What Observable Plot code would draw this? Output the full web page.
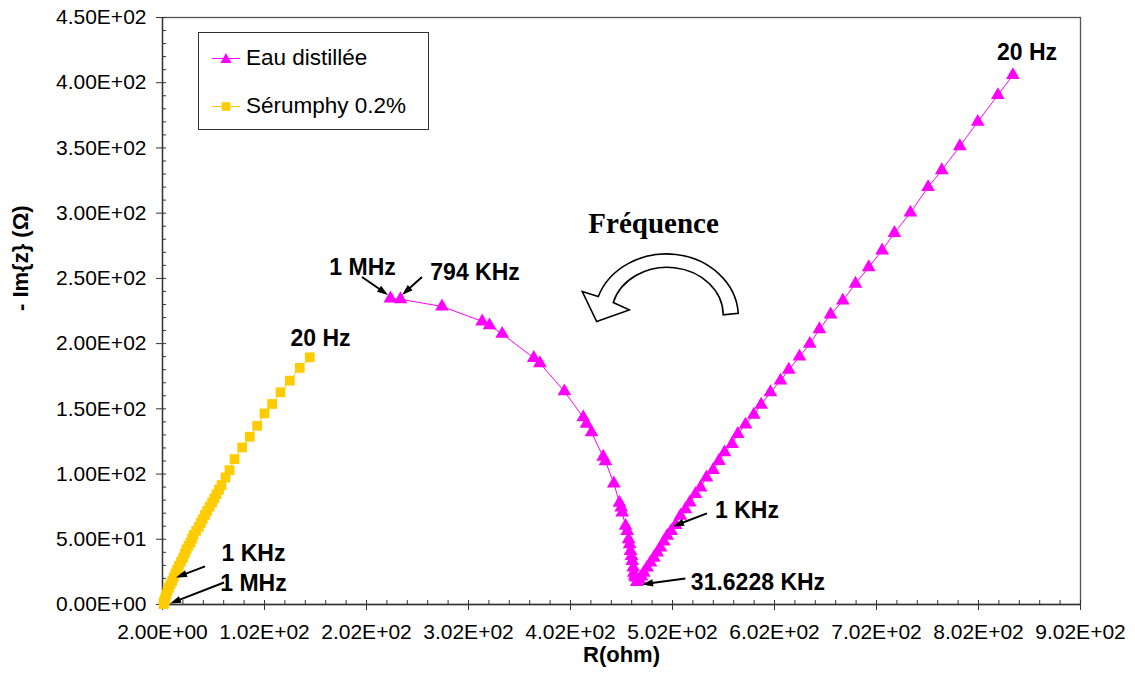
<!DOCTYPE html>
<html>
<head>
<meta charset="utf-8">
<script src="https://cdn.jsdelivr.net/npm/d3@7"></script>
<script src="https://cdn.jsdelivr.net/npm/@observablehq/plot@0.6"></script>
<style>
  html, body { margin: 0; padding: 0; background: #fff; }
  #wrap { position: relative; width: 1135px; height: 675px; font-family: "Liberation Sans", Arial, sans-serif; }
  #legend { position: absolute; left: 198px; top: 32px; width: 229px; height: 96px; border: 1.3px solid #333; background: #fff; box-sizing: content-box; }
  .entry { position: absolute; left: 0; height: 30px; display: flex; align-items: center; font-size: 22.5px; color: #000; }
  .entry svg { margin-left: 13px; margin-right: 6px; }
</style>
</head>
<body>
<div id="wrap">
  <div id="chart"></div>
  <div id="legend"></div>
</div>
<script>
// ---- Data ----
const eauR = [225.5, 235.3, 276, 315.4, 322.6, 335, 366, 372, 396, 414.5, 417.7, 422.6, 434, 436.3, 444.5, 450, 451.7, 452.7, 456, 457.6, 459, 460, 460.8, 461.8, 462.5, 463.5, 464, 465, 465.7, 467,
  469.5, 471.5, 473.9, 477.1, 480.4, 483.7, 487, 490.2, 493.5, 496.8, 500.7, 505, 509.8, 514.7, 519, 524.5, 529.5, 535.3, 541.8, 547.5, 553, 560.4, 566, 573.6, 581.7, 588.9, 598, 607.9, 616, 626.5, 636.6, 646, 657, 669, 681.4, 694.4, 707.5, 719.6, 735.3, 752.6, 766, 783.7, 801.3, 821, 835.7];
const eauIm = [234.6, 234, 228.5, 217, 214, 207.5, 189, 185, 163.4, 143.5, 138.6, 132, 113.3, 109.7, 92.8, 78, 74.3, 70.5, 60.3, 56.4, 50, 46.2, 41, 37.2, 33.4, 28.3, 24.4, 22, 20.6, 17.2,
  19, 21.5, 24.4, 28.3, 32.1, 35.9, 39.8, 43.6, 48.2, 52.6, 56.4, 61, 68, 73, 78.2, 84.6, 89.7, 97.4, 103, 110, 116.6, 123, 130.7, 137.9, 145.5, 153.2, 162.7, 171.6, 180, 190, 199.8, 211, 222.3, 233, 245.9, 258.6, 271.4, 284.8, 300.4, 320, 332.9, 351.3, 370, 390.5, 405.8];

const serR = [3.0, 3.3, 3.6, 4.0, 4.5, 5.0, 5.9, 7.0, 8.2, 9.8, 11.5, 13.0, 14.7, 16.3, 18, 20.2, 22.3, 24, 25.5, 27.5, 29.5, 31, 32.5, 35, 37.6, 39.5, 41.4, 43.6, 45.8, 48.2, 50.6, 52.8, 55, 57.4, 59.8, 63.8, 67.7, 72.6, 80.1, 87.6, 94.8, 102, 109.5, 117.7, 126.8, 136.6, 146.4];
const serIm = [0.3, 1.0, 1.8, 2.8, 4.0, 5.5, 7.8, 10.3, 12.9, 15.5, 18, 20.8, 23.7, 26.7, 29.6, 32.8, 35.9, 39.2, 42.4, 45, 47.5, 50.5, 53.4, 56.5, 59.5, 62.5, 65.4, 68.6, 71.8, 75, 78.2, 81.4, 84.6, 88, 91.5, 97.4, 103, 111.5, 120.4, 128.6, 137, 146.5, 153.7, 162.7, 171.6, 181.4, 189.5];

const seriesNames = ["Eau distillée", "Sérumphy 0.2%"];
const seriesColors = ["#FF00FF", "#FFCC00"];

const xTicks = [2, 102, 202, 302, 402, 502, 602, 702, 802, 902];
const yTicks = [0, 50, 100, 150, 200, 250, 300, 350, 400, 450];

const labelText = ["20 Hz", "1 MHz", "794 KHz", "20 Hz", "1 KHz", "1 MHz", "1 KHz", "31.6228 KHz"];
const labelX = [849.6, 198.1, 308.4, 156.9, 91.2, 91.2, 575, 585.8];
const labelY = [422.7, 258.4, 254.6, 203.9, 38.8, 15.7, 71.8, 16.5];

const arrowX1 = [198.1, 256.9, 44.2, 62.8, 536.3, 515.1];
const arrowY1 = [250.7, 250.7, 28.8, 16.5, 69.5, 19.6];
const arrowX2 = [223.6, 237.3, 15.7, 9.8, 503, 472.6];
const arrowY2 = [236.9, 236.9, 20.4, 0.4, 59.5, 15];

const freqTitle = "Fréquence";
const freqTitleX = 483.4, freqTitleY = 292.2;
const freqArrowX = 504.9, freqArrowY = 266.1;

// ---- Tables built from arrays ----
const eau = eauR.map((r, i) => ({r, im: eauIm[i]}));
const ser = serR.map((r, i) => ({r, im: serIm[i]}));
const labels = labelText.map((t, i) => ({t, x: labelX[i], y: labelY[i]}));
const arrows = arrowX1.map((x1, i) => ({x1, y1: arrowY1[i], x2: arrowX2[i], y2: arrowY2[i]}));

function fmtE(v) {
  const [m, e] = v.toExponential(2).split("e");
  const sign = e[0] === "-" ? "-" : "+";
  const d = e.replace(/[+-]/, "").padStart(2, "0");
  return `${m}E${sign}${d}`;
}

const W = 1135, H = 675;
const mL = 162, mR = 55, mT = 17, mB = 71;
const plotW = W - mL - mR, plotH = H - mT - mB;
const xMinor = d3.range(2, 903, 20);
const yMinor = d3.range(0, 451, 10);

// curved "frequency" block arrow, anchored at a data point
function freqArrow(index, scales) {
  const cx = scales.x(freqArrowX), cy = scales.y(freqArrowY);
  const g = d3.create("svg:g");
  g.append("path")
    .attr("transform", `translate(${cx},${cy})`)
    .attr("d", "M-76.7,39.7 A72,63 0 0 1 63.3,56.3 L48.3,58 A56,48 0 0 0 -61.7,45.7 L-45.7,53 L-78.3,64.7 L-92.7,34.7 Z")
    .attr("fill", "#fff")
    .attr("stroke", "#000")
    .attr("stroke-width", 1.6)
    .attr("stroke-linejoin", "miter");
  return g.node();
}

// annotation arrows with filled heads, positioned through the plot scales
function annotationArrows(index, scales) {
  const g = d3.create("svg:g");
  const L = 11, Wd = 3.6;
  for (const a of arrows) {
    const x1 = scales.x(a.x1), y1 = scales.y(a.y1), x2 = scales.x(a.x2), y2 = scales.y(a.y2);
    const dx = x2 - x1, dy = y2 - y1, len = Math.hypot(dx, dy);
    const ux = dx / len, uy = dy / len;
    const bx = x2 - ux * L, by = y2 - uy * L;
    g.append("line").attr("x1", x1).attr("y1", y1).attr("x2", bx + ux).attr("y2", by + uy)
      .attr("stroke", "#000").attr("stroke-width", 2);
    g.append("path")
      .attr("d", `M${x2},${y2}L${bx - uy * Wd},${by + ux * Wd}L${bx + uy * Wd},${by - ux * Wd}Z`)
      .attr("fill", "#000");
  }
  return g.node();
}

const chart = Plot.plot({
  width: W,
  height: H,
  marginLeft: mL, marginRight: mR, marginTop: mT, marginBottom: mB,
  style: {background: "#fff", fontFamily: "Liberation Sans, Arial, sans-serif", color: "#000"},
  x: {domain: [2, 902]},
  y: {domain: [0, 450]},
  marks: [
    Plot.frame({stroke: "#555", strokeWidth: 1.3}),
    Plot.tickX(xMinor, {x: d => d, insetTop: plotH - 4, stroke: "#333"}),
    Plot.tickY(yMinor, {y: d => d, insetRight: plotW - 4, stroke: "#333"}),
    Plot.axisX({ticks: xTicks, tickFormat: fmtE, tickSize: 6, tickPadding: 14, fontSize: 21, label: null, stroke: "#333", fill: "#000"}),
    Plot.axisY({ticks: yTicks, tickFormat: fmtE, tickSize: 6, tickPadding: 10, fontSize: 21, label: null, stroke: "#333", fill: "#000"}),
    Plot.ruleX([2], {stroke: "#333", strokeWidth: 1.3}),
    Plot.ruleY([0], {stroke: "#333", strokeWidth: 1.3}),
    Plot.text(["R(ohm)"], {frameAnchor: "bottom", dy: 57, fontSize: 22, fontWeight: "bold", fill: "#000"}),
    Plot.text(["- Im{z} (Ω)"], {frameAnchor: "left", dx: -142, rotate: -90, fontSize: 22, fontWeight: "bold", fill: "#000"}),
    Plot.line(ser, {x: "r", y: "im", stroke: seriesColors[1], strokeWidth: 1}),
    Plot.dot(ser, {x: "r", y: "im", symbol: "square", r: 5.5, fill: seriesColors[1], stroke: "none"}),
    Plot.line(eau, {x: "r", y: "im", stroke: seriesColors[0], strokeWidth: 1}),
    Plot.dot(eau, {x: "r", y: "im", symbol: "triangle", r: 5.1, fill: seriesColors[0], stroke: "none"}),
    annotationArrows,
    Plot.text(labels, {x: "x", y: "y", text: "t", fontSize: 23, fontWeight: "bold", fill: "#000"}),
    Plot.text([freqTitle], {x: () => freqTitleX, y: () => freqTitleY, fontFamily: "Liberation Serif, Times New Roman, serif", fontWeight: "bold", fontSize: 29, fill: "#000"}),
    freqArrow
  ]
});
document.getElementById("chart").appendChild(chart);

// ---- Legend (HTML overlay inside the plot frame) ----
const legend = document.getElementById("legend");
const symbols = [
  '<polygon points="14,2 19.5,12 8.5,12" fill="#FF00FF"/>',
  '<rect x="9.7" y="3.2" width="8.6" height="8.6" fill="#FFCC00"/>'
];
seriesNames.forEach((name, i) => {
  const div = document.createElement("div");
  div.className = "entry";
  div.style.top = (i === 0 ? 10 : 58) + "px";
  div.innerHTML = `<svg width="28" height="15"><line x1="0" x2="28" y1="7.5" y2="7.5" stroke="${seriesColors[i]}" stroke-width="1"/>${symbols[i]}</svg><span>${name}</span>`;
  legend.appendChild(div);
});
</script>
</body>
</html>
